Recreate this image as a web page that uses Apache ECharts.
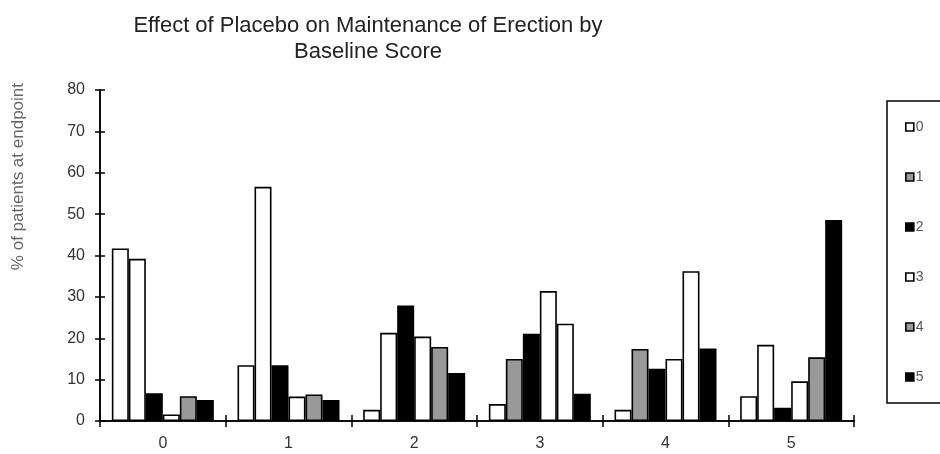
<!DOCTYPE html>
<html>
<head>
<meta charset="utf-8">
<script src="https://cdn.jsdelivr.net/npm/echarts@6/dist/echarts.min.js"></script>
<style>html,body{margin:0;padding:0;background:#fff}#c{width:940px;height:454px}</style>
</head>
<body>
<div id="c"></div>
<script>
var categories = ['0', '1', '2', '3', '4', '5'];
var seriesNames = ['0', '1', '2', '3', '4', '5'];
var s0 = [41.7, 13.5, 2.7, 4.1, 2.7, 6.0];
var s1 = [39.2, 56.6, 21.3, 15.0, 17.4, 18.4];
var s2 = [6.7, 13.5, 27.9, 21.1, 12.6, 3.2];
var s3 = [1.6, 5.9, 20.4, 31.4, 15.0, 9.6];
var s4 = [6.0, 6.4, 17.9, 23.5, 36.2, 15.4];
var s5 = [5.1, 5.1, 11.6, 6.6, 17.5, 48.6];
var yTicks = [0, 10, 20, 30, 40, 50, 60, 70, 80];

var allSeries = [s0, s1, s2, s3, s4, s5];
var fills = ['#ffffff', '#999999', '#000000', '#ffffff', '#999999', '#000000'];
// bars that appear white in the reference despite their series colour
var whiteOverride = {'1': [0, 1, 2, 5], '4': [3, 4]};

var series = allSeries.map(function (vals, si) {
  var ov = whiteOverride[String(si)] || [];
  return {
    name: seriesNames[si],
    type: 'bar',
    barWidth: 17,
    barGap: '0%',
    itemStyle: {color: fills[si], borderColor: '#000', borderWidth: 1.6},
    data: vals.map(function (v, ci) {
      if (ov.indexOf(ci) >= 0) {
        return {value: v, itemStyle: {color: '#ffffff'}};
      }
      return v;
    })
  };
});

var chart = echarts.init(document.getElementById('c'), null, {renderer: 'canvas'});
chart.setOption({
  animation: false,
  backgroundColor: '#fff',
  title: {
    text: 'Effect of Placebo on Maintenance of Erection by\nBaseline Score',
    left: 363,
    top: 8,
    textAlign: 'center',
    textStyle: {fontFamily: 'Liberation Sans', fontSize: 22, fontWeight: 'normal', color: '#222', lineHeight: 26}
  },
  legend: {
    orient: 'vertical',
    left: 887,
    top: 101,
    itemWidth: 8,
    itemHeight: 8,
    itemGap: 36,
    padding: [19, 60, 19, 18],
    borderColor: '#000',
    borderWidth: 1.5,
    icon: 'rect',
    data: seriesNames.map(function (n, i) {
      return {name: n, itemStyle: {color: fills[i], borderColor: '#000', borderWidth: 1.6}};
    }),
    textStyle: {fontFamily: 'Liberation Sans', fontSize: 14, color: '#555', padding: [0, 0, 0, -3]}
  },
  graphic: [{
    type: 'text',
    left: 10,
    top: 83,
    rotation: Math.PI / 2,
    style: {text: '% of patients at endpoint', font: '17px Liberation Sans', fill: '#666'}
  }],
  grid: {left: 100, right: 86, top: 90, bottom: 33, containLabel: false},
  xAxis: [{
    type: 'category',
    data: categories,
    position: 'bottom',
    axisLine: {lineStyle: {color: '#000', width: 1.5}},
    axisTick: {show: true, alignWithLabel: false, length: 6, lineStyle: {color: '#000', width: 1.5}},
    axisLabel: {fontFamily: 'Liberation Sans', fontSize: 16, color: '#333', margin: 15}
  }, {
    type: 'category',
    data: categories,
    position: 'bottom',
    offset: 0,
    axisLine: {show: true, lineStyle: {color: '#000', width: 1.5}},
    axisTick: {show: true, inside: true, length: 6, lineStyle: {color: '#000', width: 1.5}},
    axisLabel: {show: false}
  }],
  yAxis: [{
    type: 'value',
    min: 0,
    max: 80,
    interval: 10,
    position: 'left',
    axisLine: {show: true, lineStyle: {color: '#000', width: 1.5}},
    axisTick: {show: true, length: 5, lineStyle: {color: '#000', width: 1.5}},
    splitLine: {show: false},
    axisLabel: {
      fontFamily: 'Liberation Sans', fontSize: 16, color: '#333', margin: 15,
      formatter: function (v) { return yTicks.indexOf(v) >= 0 ? String(v) : ''; }
    }
  }, {
    type: 'value',
    min: 0,
    max: 80,
    interval: 10,
    position: 'left',
    offset: 0,
    axisLine: {show: true, lineStyle: {color: '#000', width: 1.5}},
    axisTick: {show: true, inside: true, length: 5, lineStyle: {color: '#000', width: 1.5}},
    splitLine: {show: false},
    axisLabel: {show: false}
  }],
  series: series
});
</script>
</body>
</html>
